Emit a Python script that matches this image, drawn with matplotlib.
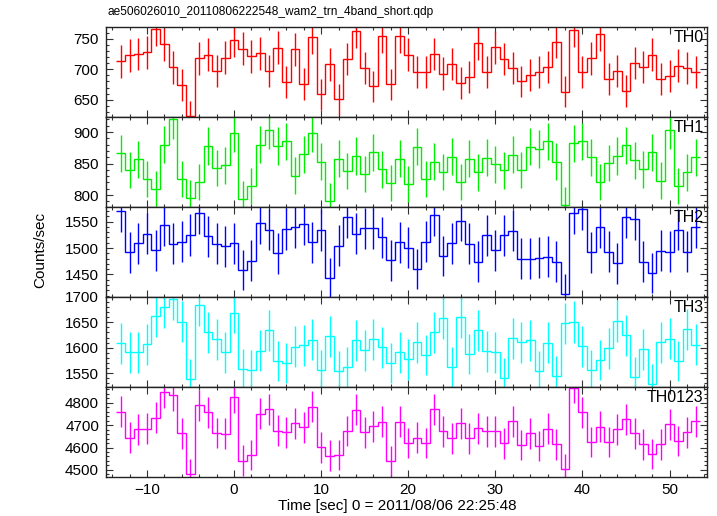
import numpy as np
import matplotlib
matplotlib.use("Agg")
import matplotlib.pyplot as plt
from matplotlib.ticker import MultipleLocator

plt.rcParams['font.family'] = ['Liberation Sans', 'DejaVu Sans']

# ---------------- data ----------------
time_bins = list(range(-13, 54))   # bin centres [s], 1 s bins

th0 = [713, 723, 725, 728, 766, 741, 703, 674, 623, 718, 724, 697, 719, 748, 734, 721, 726, 697, 735, 679,
       733, 676, 753, 659, 708, 651, 717, 762, 702, 672, 754, 675, 754, 724, 696, 695, 725, 693, 709, 677,
       688, 743, 696, 736, 717, 702, 680, 691, 696, 704, 745, 663, 764, 695, 718, 758, 684, 697, 664, 710,
       704, 724, 684, 689, 706, 702, 696]
th0_err = [26.7, 26.9, 26.9, 27.0, 27.7, 27.2, 26.5, 26.0, 25.0, 26.8, 26.9, 26.4, 26.8, 27.3, 27.1, 26.9, 26.9,
           26.4, 27.1, 26.1, 27.1, 26.0, 27.4, 25.7, 26.6, 25.5, 26.8, 27.6, 26.5, 25.9, 27.5, 26.0, 27.5, 26.9,
           26.4, 26.4, 26.9, 26.3, 26.6, 26.0, 26.2, 27.3, 26.4, 27.1, 26.8, 26.5, 26.1, 26.3, 26.4, 26.5, 27.3,
           25.7, 27.6, 26.4, 26.8, 27.5, 26.2, 26.4, 25.8, 26.6, 26.5, 26.9, 26.2, 26.2, 26.6, 26.5, 26.4]

th1 = [866, 840, 857, 825, 809, 880, 920, 825, 796, 820, 878, 843, 847, 898, 794, 815, 880, 903, 878, 885,
       831, 865, 898, 853, 791, 858, 838, 862, 833, 868, 841, 819, 858, 818, 877, 826, 853, 837, 861, 821,
       858, 836, 859, 849, 839, 864, 840, 877, 873, 885, 853, 785, 882, 885, 860, 820, 851, 862, 879, 855,
       841, 868, 823, 903, 814, 836, 860]
th1_err = [29.4, 29.0, 29.3, 28.7, 28.4, 29.7, 30.3, 28.7, 28.2, 28.6, 29.6, 29.0, 29.1, 30.0, 28.2, 28.5, 29.7,
           30.0, 29.6, 29.7, 28.8, 29.4, 30.0, 29.2, 28.1, 29.3, 28.9, 29.4, 28.9, 29.5, 29.0, 28.6, 29.3, 28.6,
           29.6, 28.7, 29.2, 28.9, 29.3, 28.7, 29.3, 28.9, 29.3, 29.1, 29.0, 29.4, 29.0, 29.6, 29.5, 29.7, 29.2,
           28.0, 29.7, 29.7, 29.3, 28.6, 29.2, 29.4, 29.6, 29.2, 29.0, 29.5, 28.7, 30.0, 28.5, 28.9, 29.3]

th2 = [1570, 1492, 1509, 1527, 1496, 1543, 1508, 1512, 1525, 1567, 1522, 1508, 1503, 1509, 1458, 1476, 1547,
       1535, 1490, 1536, 1540, 1546, 1511, 1534, 1443, 1504, 1558, 1527, 1537, 1537, 1520, 1477, 1511, 1501,
       1460, 1512, 1562, 1485, 1509, 1552, 1508, 1474, 1524, 1496, 1524, 1533, 1480, 1480, 1482, 1484, 1474,
       1413, 1567, 1573, 1492, 1539, 1493, 1471, 1559, 1555, 1474, 1453, 1495, 1493, 1535, 1493, 1540]
th2_err = [39.6, 38.6, 38.8, 39.1, 38.7, 39.3, 38.8, 38.9, 39.1, 39.6, 39.0, 38.8, 38.8, 38.8, 38.2, 38.4, 39.3,
           39.2, 38.6, 39.2, 39.2, 39.3, 38.9, 39.2, 38.0, 38.8, 39.5, 39.1, 39.2, 39.2, 39.0, 38.4, 38.9, 38.7,
           38.2, 38.9, 39.5, 38.5, 38.8, 39.4, 38.8, 38.4, 39.0, 38.7, 39.0, 39.2, 38.5, 38.5, 38.5, 38.5, 38.4,
           37.6, 39.6, 39.7, 38.6, 39.2, 38.6, 38.4, 39.5, 39.4, 38.4, 38.1, 38.7, 38.6, 39.2, 38.6, 39.2]

th3 = [1609, 1591, 1591, 1607, 1662, 1679, 1695, 1651, 1539, 1683, 1630, 1617, 1591, 1669, 1558, 1557, 1594,
       1634, 1574, 1570, 1602, 1605, 1616, 1557, 1622, 1554, 1562, 1615, 1595, 1617, 1601, 1570, 1591, 1577,
       1611, 1586, 1630, 1658, 1562, 1660, 1588, 1634, 1593, 1591, 1540, 1619, 1611, 1615, 1555, 1610, 1544,
       1648, 1650, 1603, 1556, 1576, 1599, 1652, 1624, 1543, 1597, 1529, 1611, 1618, 1574, 1636, 1606]
th3_err = [40.1, 39.9, 39.9, 40.1, 40.8, 41.0, 41.2, 40.6, 39.2, 41.0, 40.4, 40.2, 39.9, 40.9, 39.5, 39.5, 39.9,
           40.4, 39.7, 39.6, 40.0, 40.1, 40.2, 39.5, 40.3, 39.4, 39.5, 40.2, 39.9, 40.2, 40.0, 39.6, 39.9, 39.7,
           40.1, 39.8, 40.4, 40.7, 39.5, 40.7, 39.8, 40.4, 39.9, 39.9, 39.2, 40.2, 40.1, 40.2, 39.4, 40.1, 39.3,
           40.6, 40.6, 40.0, 39.4, 39.7, 40.0, 40.6, 40.3, 39.3, 40.0, 39.1, 40.1, 40.2, 39.7, 40.4, 40.1]

th0123 = [4759, 4644, 4681, 4684, 4733, 4845, 4833, 4663, 4481, 4788, 4756, 4665, 4661, 4824, 4542, 4568, 4750,
          4770, 4675, 4668, 4708, 4690, 4782, 4601, 4564, 4567, 4674, 4769, 4668, 4695, 4715, 4540, 4715, 4620,
          4644, 4620, 4770, 4672, 4641, 4708, 4641, 4686, 4672, 4672, 4619, 4717, 4611, 4663, 4606, 4684, 4614,
          4506, 4866, 4756, 4625, 4692, 4625, 4681, 4726, 4663, 4614, 4571, 4614, 4704, 4628, 4668, 4717]
th0123_err = [69.0, 68.1, 68.4, 68.4, 68.8, 69.6, 69.5, 68.3, 66.9, 69.2, 69.0, 68.3, 68.3, 69.5, 67.4, 67.6, 68.9,
              69.1, 68.4, 68.3, 68.6, 68.5, 69.2, 67.8, 67.6, 67.6, 68.4, 69.1, 68.3, 68.5, 68.7, 67.4, 68.7, 68.0,
              68.1, 68.0, 69.1, 68.4, 68.1, 68.6, 68.1, 68.5, 68.4, 68.4, 68.0, 68.7, 67.9, 68.3, 67.9, 68.4, 67.9,
              67.1, 69.8, 69.0, 68.0, 68.5, 68.0, 68.4, 68.7, 68.3, 67.9, 67.6, 67.9, 68.6, 68.0, 68.3, 68.7]

panel_names = ["TH0", "TH1", "TH2", "TH3", "TH0123"]
panel_values = [th0, th1, th2, th3, th0123]
panel_errors = [th0_err, th1_err, th2_err, th3_err, th0123_err]
panel_colors = ["#ff0000", "#00ee00", "#0000ff", "#00ffff", "#ff00ff"]
panel_ylims = [(621.8, 769.3), (781.4, 924.0), (1408.0, 1578.0), (1523.8, 1700.0), (4471.0, 4871.0)]
panel_major = [50, 50, 50, 50, 100]
panel_minor = [10, 10, 10, 10, 20]

title = "ae506026010_20110806222548_wam2_trn_4band_short.qdp"
xlabel = "Time [sec] 0 = 2011/08/06 22:25:48"
ylabel = "Counts/sec"

# ---------------- figure ----------------
W, H = 717, 516
fig = plt.figure(figsize=(W / 100, H / 100), dpi=100)

left_px, right_px = 106, 707
top_px, bottom_px = 27, 476.5
ph = (bottom_px - top_px) / 5.0

t = np.array(time_bins, dtype=float)
edges = np.concatenate([t - 0.5, [t[-1] + 0.5]])
axes = []
for i in range(5):
    y_top = top_px + i * ph
    ax = fig.add_axes([left_px / W, 1 - (y_top + ph) / H, (right_px - left_px) / W, ph / H])
    axes.append(ax)
    col = panel_colors[i]
    vals = np.array(panel_values[i], dtype=float)
    errs = np.array(panel_errors[i], dtype=float)
    ax.stairs(vals, edges, baseline=None, color=col, linewidth=1.0)
    ax.errorbar(t, vals, yerr=errs, fmt='none', ecolor=col, elinewidth=1.0, capsize=0)
    ax.set_xlim(-14.7, 54.3)
    ax.set_ylim(*panel_ylims[i])
    ax.xaxis.set_major_locator(MultipleLocator(10))
    ax.xaxis.set_minor_locator(MultipleLocator(2))
    ax.yaxis.set_major_locator(MultipleLocator(panel_major[i]))
    ax.yaxis.set_minor_locator(MultipleLocator(panel_minor[i]))
    ax.tick_params(which='both', direction='in', top=True, right=True, color='#333333', width=0.8,
                   labelsize=11, pad=5)
    ax.tick_params(which='major', length=5)
    ax.tick_params(which='minor', length=2.5)
    for s in ax.spines.values():
        s.set_color('#222222')
        s.set_linewidth(1.0)
    if i < 4:
        ax.tick_params(labelbottom=False)
    ax.text(0.994, 0.965, panel_names[i], transform=ax.transAxes, ha='right', va='top', fontsize=11.5)

fig.text(107 / W, 1 - 12 / H, title, ha='left', va='center', fontsize=8.6)
fig.text(397 / W, 1 - 506 / H, xlabel, ha='center', va='center', fontsize=11)
fig.text(40 / W, 1 - 250 / H, ylabel, ha='center', va='center', rotation=90, fontsize=11)

fig.savefig("out.png", dpi=100)
